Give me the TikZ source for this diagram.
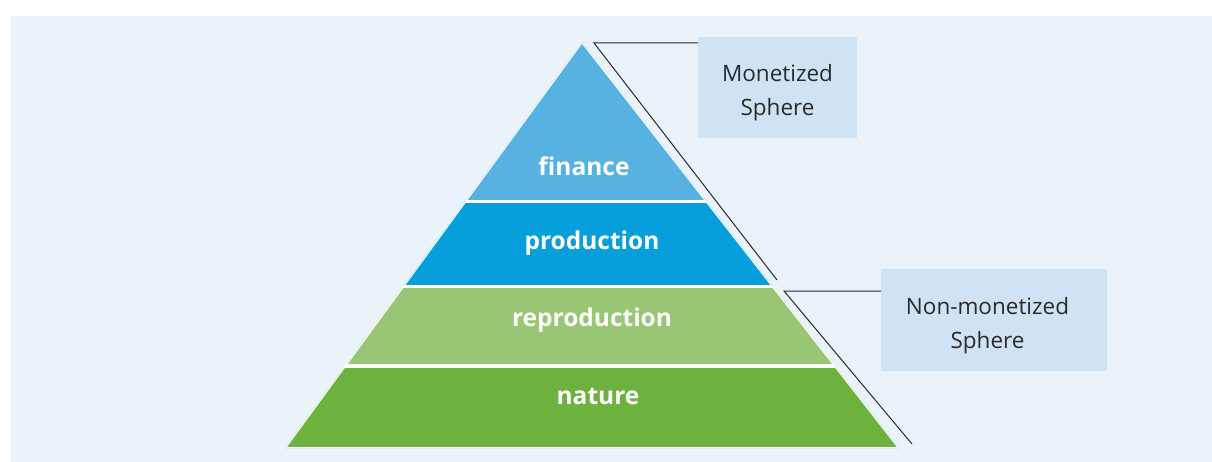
\documentclass[tikz,border=0pt]{standalone}
\usepackage{fontspec}
\setmainfont{Open Sans}
\definecolor{panel}{HTML}{EAF2FA}
\definecolor{boxfill}{HTML}{CFE3F4}
\definecolor{cfin}{HTML}{58B2E1}
\definecolor{cprod}{HTML}{069FDB}
\definecolor{crep}{HTML}{98C674}
\definecolor{cnat}{HTML}{6DB23F}
\definecolor{ink}{HTML}{2B2B2B}
\newcommand{\topstrut}{\rule{0pt}{28pt}}
\tikzset{
  layertext/.style={text=white, font=\bfseries\fontsize{24.5}{28}\selectfont, inner sep=0pt},
  spherebox/.style={fill=boxfill, text=ink, align=center, font=\fontsize{22.5}{34}\selectfont, inner sep=0pt},
  leader/.style={draw=ink, line width=1pt},
  gap/.style={draw=white, line width=3.5pt}
}
\begin{document}
\begin{tikzpicture}[x=1pt,y=-1pt]
\useasboundingbox (0,0) rectangle (1212,462);
\fill[white] (0,0) rectangle (1212,462);
\fill[panel] (11,16) rectangle (1212,462);
% pyramid
\coordinate (apex) at (582,42);
\coordinate (bl) at (285,448);
\coordinate (br) at (899,448);
\begin{scope}
  \clip (apex) -- (br) -- (bl) -- cycle;
  \fill[cfin]  (250,30)  rectangle (950,202);
  \fill[cprod] (250,202) rectangle (950,286);
  \fill[crep]  (250,286) rectangle (950,366);
  \fill[cnat]  (250,366) rectangle (950,460);
  \draw[gap] (250,201.5) -- (950,201.5);
  \draw[gap] (250,286.5) -- (950,286.5);
  \draw[gap] (250,366) -- (950,366);
  \draw[white, line width=2pt] (apex) -- (br) -- (bl) -- cycle;
\end{scope}
\node[layertext] (fin) at (584,166) {finance};
\node[layertext] (prod) at (592,243) {production};
\node[layertext] (rep) at (592,320) {reproduction};
\node[layertext] (nat) at (598,397) {nature};
% boxes
\node[spherebox, minimum width=159pt, minimum height=101pt] (mbox) at (777.5,87.5) {\topstrut Monetized\\Sphere};
\node[spherebox, minimum width=226pt, minimum height=102pt] (nbox) at (994,320) {\topstrut Non-monetized\hspace*{13pt}\\Sphere\hspace*{13pt}};
% leaders
\coordinate (m1) at (594,43);
\coordinate (m2) at (777,280);
\coordinate (n1) at (784,291);
\coordinate (n2) at (912,444);
\draw[leader] (mbox.west |- m1) -- (m1) -- (m2);
\draw[leader] (nbox.west |- n1) -- (n1) -- (n2);
\end{tikzpicture}
\end{document}
